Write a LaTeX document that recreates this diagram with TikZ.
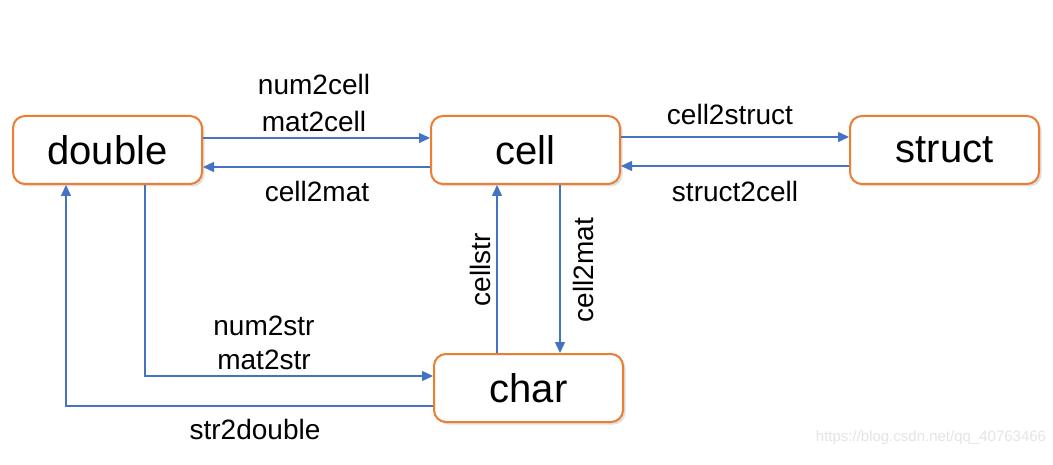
\documentclass[tikz,border=0pt]{standalone}
\usepackage{fontspec}
\setmainfont{Liberation Sans}
\usetikzlibrary{arrows.meta,shadows,calc}
\definecolor{boxorange}{HTML}{ED7D31}
\definecolor{arrblue}{HTML}{4472C4}
\tikzset{
  typebox/.style={draw=boxorange, line width=2pt, rounded corners=12pt, fill=white,
    minimum width=189pt, minimum height=68pt, inner sep=0pt,
    font=\fontsize{40}{44}\selectfont,
    drop shadow={opacity=0.25, shadow xshift=2.5pt, shadow yshift=-2.5pt}},
  arr/.style={draw=arrblue, line width=1.3pt, -{Triangle[length=11pt,width=10pt]}},
  lbl/.style={inner sep=0pt, font=\fontsize{28}{31}\selectfont},
}
\begin{document}
\begin{tikzpicture}[x=1pt,y=-1pt]
\useasboundingbox[fill=white] (0,0) rectangle (1053,465);
\node[typebox] (double) at (107.5,150) {double};
\node[typebox] (cell) at (525.5,150) {cell};
\node[typebox] (struct) at (944.5,150) {struct};
\node[typebox] (char) at (528.5,388) {char};

\draw[arr] ([yshift=12pt]double.east) -- ([yshift=12pt]cell.west);
\draw[arr] ([yshift=-17pt]cell.west) -- ([yshift=-17pt]double.east);
\draw[arr] ([yshift=13pt]cell.east) -- ([yshift=13pt]struct.west);
\draw[arr] ([yshift=-16pt]struct.west) -- ([yshift=-16pt]cell.east);
\draw[arr] ([xshift=34.5pt]cell.south) -- ([xshift=34.5pt]cell.south |- char.north);
\draw[arr] ([xshift=-31.5pt]char.north) -- ([xshift=-31.5pt]char.north |- cell.south);
\draw[arr] ([xshift=37.5pt]double.south) |- ([yshift=12pt]char.west);
\draw[arr] ([yshift=-18pt]char.west) -| ([xshift=-41.5pt]double.south);

\node[lbl] (l1) at (314,84) {num2cell};
\node[lbl] (l2) at (314,121) {mat2cell};
\node[lbl] (l3) at (317,191) {cell2mat};
\node[lbl] (l4) at (730,114) {cell2struct};
\node[lbl] (l5) at (735,191) {struct2cell};
\node[lbl, rotate=90] (l6) at (480,270) {cellstr};
\node[lbl, rotate=90] (l7) at (583,270) {cell2mat};
\node[lbl] (l8) at (264,326) {num2str};
\node[lbl] (l9) at (264,360) {mat2str};
\node[lbl] (l10) at (255,429) {str2double};
\node[inner sep=0pt, text=black!10, font=\fontsize{15}{17}\selectfont] (wm) at (931,438) {https://blog.csdn.net/qq\_40763466};
\end{tikzpicture}
\end{document}
